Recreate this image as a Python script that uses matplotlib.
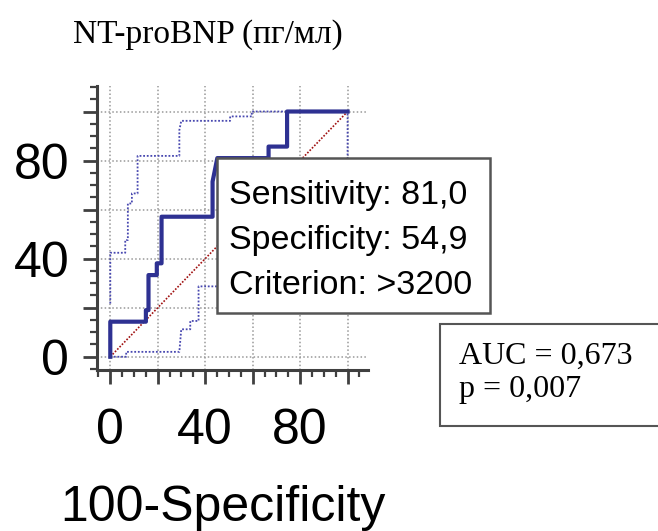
import matplotlib
matplotlib.use("Agg")
import matplotlib.pyplot as plt
from matplotlib.patches import Rectangle
from matplotlib.ticker import MultipleLocator

# ROC curve for NT-proBNP
roc_x = [0, 0, 15.0, 15.0, 16.1, 16.1, 19.6, 19.6, 21.6, 21.6, 43.1, 43.1, 45.1, 66.7, 66.7, 74.5, 74.5, 100]
roc_y = [0, 14.3, 14.3, 19.0, 19.0, 33.3, 33.3, 38.1, 38.1, 57.1, 57.1, 71.4, 81.0, 81.0, 85.7, 85.7, 100, 100]

# 95% confidence bounds
upper_x = [0, 0, 6.3, 6.3, 7.4, 7.4, 9.1, 9.1, 11.5, 11.5, 29.1, 29.1, 29.9, 50.5, 50.5, 59.6, 59.6, 100]
upper_y = [21.7, 42.4, 42.4, 47.6, 47.6, 62.5, 62.5, 66.6, 66.6, 81.9, 81.9, 92.4, 96.2, 96.2, 98.0, 98.0, 100, 100]
lower_x = [0, 6.7, 6.7, 29.1, 29.9, 33.7, 33.7, 37.2, 37.2, 62, 62, 78, 78, 92, 92, 100, 100]
lower_y = [0, 0, 2.0, 2.0, 11.2, 11.2, 14.6, 14.6, 28.7, 28.7, 45, 45, 62, 62, 78, 78, 100]

title = "NT-proBNP (пг/мл)"
xlabel = "100-Specificity"
point_lines = ["Sensitivity: 81,0", "Specificity: 54,9", "Criterion: >3200"]
stat_lines = ["AUC = 0,673", "p = 0,007"]
tick_labels = [0, 40, 80]

W, H = 658, 531
fig = plt.figure(figsize=(W / 100, H / 100), dpi=100)
fig.patch.set_facecolor("white")


def fx(px):
    return px / W


def fy(py):
    return 1 - py / H


ax = fig.add_axes([fx(97), fy(370), fx(368) - fx(97), fy(86) - fy(370)])
ax.set_xlim(-5.6, 108.6)
ax.set_ylim(-5.4, 110.4)

for side in ["top", "right"]:
    ax.spines[side].set_visible(False)
for side in ["left", "bottom"]:
    ax.spines[side].set_color("#404040")
    ax.spines[side].set_linewidth(2.2)

ax.xaxis.set_minor_locator(MultipleLocator(5))
ax.yaxis.set_minor_locator(MultipleLocator(5))
ax.set_xticks(range(0, 101, 20))
ax.set_yticks(range(0, 101, 20))
ax.set_xticklabels([str(v) if v in tick_labels else "" for v in range(0, 101, 20)])
ax.set_yticklabels([str(v) if v in tick_labels else "" for v in range(0, 101, 20)])
ax.tick_params(which="major", length=10, width=2, color="#404040", direction="out",
               labelsize=36)
ax.tick_params(axis="y", which="major", pad=10)
ax.tick_params(axis="x", which="major", pad=17)
ax.tick_params(which="minor", length=5, width=1.6, color="#404040", direction="out")
for lab in ax.get_xticklabels() + ax.get_yticklabels():
    lab.set_fontfamily("Liberation Sans")

ax.grid(True, which="major", color="#999999", linestyle=(0, (1, 1.5)), linewidth=1.1)
ax.set_axisbelow(True)

ax.plot([0, 100], [0, 100], color="#a01010", linestyle=(0, (1, 1)), linewidth=1.2, zorder=2)
ax.plot(upper_x, upper_y, color="#4848b0", linestyle=(0, (1, 1)), linewidth=1.3, zorder=3)
ax.plot(lower_x, lower_y, color="#4848b0", linestyle=(0, (1, 1)), linewidth=1.3, zorder=3)
ax.plot(roc_x, roc_y, color="#2e3192", linewidth=3, zorder=4)

fig.text(fx(223), fy(508), xlabel, fontsize=36, family="Liberation Sans",
         ha="center", va="center")
fig.text(fx(73), fy(35), title, fontsize=24, family="Liberation Serif",
         ha="left", va="center")

# criterion box
box = Rectangle((fx(217), fy(313)), fx(490) - fx(217), fy(158) - fy(313),
                transform=fig.transFigure, facecolor="white", edgecolor="#555555",
                linewidth=1.8, zorder=5)
fig.add_artist(box)
for i, line in enumerate(point_lines):
    fig.text(fx(229), fy(195 + 45 * i), line, fontsize=24.5, family="Liberation Sans",
             ha="left", va="center", zorder=6)

# AUC box, cut by the right edge
stat_box = Rectangle((fx(440), fy(426)), fx(700) - fx(440), fy(324) - fy(426),
                     transform=fig.transFigure, facecolor="white", edgecolor="#555555",
                     linewidth=1.5, zorder=5)
fig.add_artist(stat_box)
for i, line in enumerate(stat_lines):
    fig.text(fx(459), fy(356 + 33 * i), line, fontsize=23, family="Liberation Serif",
             ha="left", va="center", zorder=6)

fig.savefig("out.png", dpi=100)
